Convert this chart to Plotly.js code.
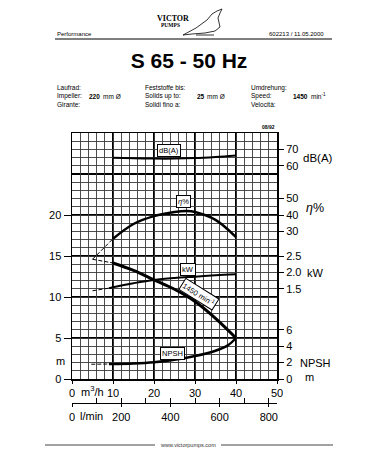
<!DOCTYPE html>
<html>
<head>
<meta charset="utf-8">
<script src="https://cdn.plot.ly/plotly-3.0.1.min.js"></script>
<style>html,body{margin:0;padding:0;background:#fff}#chart{width:378px;height:472px}</style>
</head>
<body>
<div id="chart"></div>
<script>
// ---------- data ----------
const flowHead = [10, 15, 20, 25, 30, 35, 40];            // m3/h
const head = [14.15, 13.25, 12.1, 10.95, 9.45, 7.4, 5.0];  // m
const flowHeadDash = [5, 10];
const headDash = [14.6, 14.15];

const flowEff = [10, 15, 20, 25, 28, 30, 35, 40];
const efficiency = [25.5, 34.5, 39.3, 41.8, 42.4, 41.8, 37.0, 26.5]; // %
const flowEffDash = [5, 10];
const efficiencyDash = [13, 25.5];

const flowPower = [9, 10, 15, 20, 25, 30, 35, 40];
const power = [1.52, 1.55, 1.67, 1.77, 1.83, 1.87, 1.91, 1.94];   // kW
const flowPowerDash = [5, 9];
const powerDash = [1.44, 1.52];

const flowNoise = [10, 15, 20, 25, 30, 35, 40];
const noise = [64.9, 64.6, 64.4, 64.4, 64.7, 65.4, 66.3];         // dB(A)

const flowNpsh = [9, 15, 20, 25, 30, 35, 38, 40];
const npsh = [1.83, 1.9, 2.05, 2.35, 2.8, 3.45, 4.1, 5.0];         // m
const flowNpshDash = [4.7, 9];
const npshDash = [1.8, 1.83];

const flowTicks = [0, 10, 20, 30, 40, 50];
const litreTicks = [0, 200, 400, 600, 800];
const litreMinorTicks = [0, 100, 200, 300, 400, 500, 600, 700, 800];
const headTicks = [0, 5, 10, 15, 20];
const noiseTicks = [60, 70];
const effTicks = [30, 40, 50];
const powerTicks = [1.5, 2.0, 2.5];
const powerTickText = ['1.5', '2.0', '2.5'];
const npshTicks = [0, 2, 4, 6];

const impeller = '220';
const solids = '25';
const speed = '1450';

// ---------- layout helpers ----------
const L = 72, R = 277, T = 133, B = 410, PLOTB = 379;
const PX = px => (px - L) / (R - L);
const PY = py => (B - py) / (B - T);
const SANS = "'Liberation Sans', Arial, sans-serif";

function ann(text, px, py, opts) {
  return Object.assign({text: text, x: PX(px), y: PY(py), xref: 'paper', yref: 'paper',
    showarrow: false, xanchor: 'center', yanchor: 'middle',
    font: {family: SANS, size: 6.5, color: '#000'}}, opts || {});
}
function dataLabel(text, q, h, extra) {
  return Object.assign({text: text, x: q, y: h, xref: 'x', yref: 'y', showarrow: false,
    font: {family: SANS, size: 7.5, color: '#000'}, bgcolor: '#fff', bordercolor: '#000',
    borderwidth: 1, borderpad: 1}, extra || {});
}
const big = (size) => ({font: {family: SANS, size: size || 11, color: '#000'}});

const line = (x, y, ya, w, dash) => ({x: x, y: y, yaxis: ya, type: 'scatter', mode: 'lines',
  line: {color: '#000', width: w, dash: dash || 'solid', shape: 'spline'}, hoverinfo: 'skip', showlegend: false});

const traces = [
  {x: [], y: [], xaxis: 'x4', yaxis: 'y', showlegend: false},
  {x: [], y: [], xaxis: 'x', yaxis: 'y6', showlegend: false},
  {x: [], y: [], xaxis: 'x', yaxis: 'y7', showlegend: false},
  {x: [], y: [], xaxis: 'x2', yaxis: 'y', showlegend: false},
  {x: [], y: [], xaxis: 'x3', yaxis: 'y', showlegend: false},
  line(flowNoise, noise, 'y2', 2),
  line(flowEffDash, efficiencyDash, 'y3', 1, '4px,2px'),
  line(flowEff, efficiency, 'y3', 2.5),
  line(flowPowerDash, powerDash, 'y4', 1, '4px,2px'),
  line(flowPower, power, 'y4', 2),
  line(flowNpshDash, npshDash, 'y5', 1, '4px,2px'),
  line(flowNpsh, npsh, 'y5', 2.5),
  line(flowHeadDash, headDash, 'y', 1, '4px,2px'),
  line(flowHead, head, 'y', 3)
];

const tickFont = {family: SANS, size: 11, color: '#000'};
const rightAxis = (range, vals, text) => ({overlaying: 'y', side: 'right', anchor: 'x', range: range,
  tickmode: 'array', tickvals: vals, ticktext: text, ticks: 'outside', ticklen: 6, tickwidth: 1,
  tickcolor: '#000', showgrid: false, zeroline: false, showline: false, tickfont: tickFont, fixedrange: true});

const layout = {
  width: 378, height: 472,
  font: {family: SANS, color: '#000'},
  margin: {l: L, r: 378 - R, t: T, b: 472 - B, pad: 0},
  paper_bgcolor: '#fff', plot_bgcolor: '#fff',
  showlegend: false,
  title: {text: '<b>S 65 - 50 Hz</b>', x: 0.5, xref: 'container', y: 1 - 61 / 472, yref: 'container',
    yanchor: 'middle', xanchor: 'center', font: {family: SANS, size: 21, color: '#000'}},
  xaxis: {range: [0, 50], tickmode: 'array', tickvals: flowTicks, ticks: 'outside', ticklen: 3,
    tickcolor: '#000', showline: true, linecolor: '#000', linewidth: 1.5, mirror: true,
    showgrid: true, gridcolor: '#000', gridwidth: 1.3, zeroline: false, tickfont: tickFont, fixedrange: true},
  xaxis4: {overlaying: 'x', anchor: 'y', range: [0, 50], dtick: 2, tick0: 0, showgrid: true,
    gridcolor: '#3a3a3a', gridwidth: 0.9, showticklabels: false, ticks: '', zeroline: false, showline: false},
  xaxis2: {overlaying: 'x', anchor: 'free', position: PY(403), range: [0, 50 * 1000 / 60],
    tickmode: 'array', tickvals: litreTicks, ticks: 'outside', ticklen: 3, tickcolor: '#000',
    showline: true, linecolor: '#000', linewidth: 1.3, showgrid: false, zeroline: false, tickfont: tickFont},
  xaxis3: {overlaying: 'x', anchor: 'free', position: PY(403), range: [0, 50 * 1000 / 60],
    tickmode: 'array', tickvals: litreMinorTicks, ticks: 'inside', ticklen: 5, tickcolor: '#000',
    showticklabels: false, showline: false, showgrid: false, zeroline: false},
  yaxis: {domain: [(B - PLOTB) / (B - T), 1], range: [0, 30], tickmode: 'array', tickvals: headTicks,
    ticks: 'outside', ticklen: 7, tickcolor: '#000', showline: true, linecolor: '#000', linewidth: 1.5,
    mirror: true, showgrid: true, gridcolor: '#000', gridwidth: 1.3, zeroline: false, tickfont: tickFont, fixedrange: true},
  yaxis6: {overlaying: 'y', anchor: 'x', range: [0, 30], dtick: 1, tick0: 0, showgrid: true,
    gridcolor: '#3a3a3a', gridwidth: 0.9, showticklabels: false, ticks: '', zeroline: false, showline: false},
  yaxis7: {overlaying: 'y', anchor: 'x', range: [0, 30], tickmode: 'array', tickvals: [25], showgrid: true,
    gridcolor: '#000', gridwidth: 1.3, showticklabels: false, ticks: '', zeroline: false, showline: false},
  yaxis2: rightAxis([-70, 80], noiseTicks),
  yaxis3: rightAxis([-60, 90], effTicks),
  yaxis4: rightAxis([-1.25, 6.25], powerTicks, powerTickText),
  yaxis5: rightAxis([0, 30], npshTicks),
  shapes: [
    {type: 'line', xref: 'paper', yref: 'paper', x0: PX(55), x1: PX(332), y0: PY(39), y1: PY(39), line: {color: '#000', width: 1}},
    {type: 'line', xref: 'paper', yref: 'paper', x0: PX(45), x1: PX(155), y0: PY(445), y1: PY(445), line: {color: '#444', width: 1}},
    {type: 'line', xref: 'paper', yref: 'paper', x0: PX(221), x1: PX(333), y0: PY(445), y1: PY(445), line: {color: '#444', width: 1}},
    {type: 'path', xref: 'paper', yref: 'paper', line: {color: '#000', width: 0.8},
      path: 'M' + [[183,35],[196,28],[207,20],[212,14],[217,11],[222,9],[220,13],[218,18],[220,27],[215,31],[205,33],[192,34]]
        .map(p => PX(p[0]) + ',' + PY(p[1])).join(' L') + ' Z'},
    {type: 'path', xref: 'paper', yref: 'paper', line: {color: '#000', width: 0.8},
      path: 'M' + [[196,35],[214,35]].map(p => PX(p[0]) + ',' + PY(p[1])).join(' L')}
  ],
  annotations: [
    ann('Performance', 55, 34, {xanchor: 'left', font: {family: SANS, size: 6, color: '#000'}}),
    ann('602213 / 11.05.2000', 326, 34, {xanchor: 'right', font: {family: SANS, size: 6, color: '#000'}}),
    ann('<b>VICTOR</b>', 173, 18, {font: {family: "'Liberation Serif', serif", size: 8, color: '#000'}}),
    ann('<b>PUMPS</b>', 170, 25, {font: {family: "'Liberation Serif', serif", size: 5.5, color: '#000'}}),
    ann('Laufrad:', 55, 88, {xanchor: 'left'}),
    ann('Impeller:', 55, 96.5, {xanchor: 'left'}),
    ann('Girante:', 55, 105, {xanchor: 'left'}),
    ann('<b>' + impeller + '</b>', 87, 96.5, {xanchor: 'left'}),
    ann('mm Ø', 101, 96.5, {xanchor: 'left'}),
    ann('Feststoffe bis:', 143, 88, {xanchor: 'left'}),
    ann('Solids up to:', 143, 96.5, {xanchor: 'left'}),
    ann('Solidi fino a:', 143, 105, {xanchor: 'left'}),
    ann('<b>' + solids + '</b>', 195, 96.5, {xanchor: 'left'}),
    ann('mm Ø', 205, 96.5, {xanchor: 'left'}),
    ann('Umdrehung:', 249, 88, {xanchor: 'left'}),
    ann('Speed:', 249, 96.5, {xanchor: 'left'}),
    ann('Velocità:', 249, 105, {xanchor: 'left'}),
    ann('<b>' + speed + '</b>', 291, 96.5, {xanchor: 'left'}),
    ann('min<sup>-1</sup>', 309, 95.5, {xanchor: 'left'}),
    ann('<b>08/92</b>', 268, 126.5, {font: {family: SANS, size: 5, color: '#000'}}),
    ann('www.victorpumps.com', 188, 445, {font: {family: SANS, size: 5.5, color: '#333'}}),
    ann('dB(A)', 301, 158, Object.assign({xanchor: 'left'}, big(11.5))),
    ann('<i>η</i>%', 304, 208, Object.assign({xanchor: 'left'}, big(12.5))),
    ann('kW', 305, 273, Object.assign({xanchor: 'left'}, big(11))),
    ann('NPSH', 298, 363, Object.assign({xanchor: 'left'}, big(11))),
    ann('m', 309, 377, big(11)),
    ann('m', 60, 361, big(11)),
    ann('m<sup>3</sup>/h', 92, 391, big(11)),
    ann('l/min', 91, 416.5, big(11)),
    dataLabel('dB(A)', 23.7, 27.87),
    dataLabel('<i>η</i>%', 27.2, 21.7),
    dataLabel('kW', 28.3, 13.4),
    dataLabel('1450 min<sup>-1</sup>', 30.9, 10.37, {textangle: 32}),
    dataLabel('NPSH', 24.6, 3.17)
  ]
};

Plotly.newPlot('chart', traces, layout, {staticPlot: true, displayModeBar: false});
</script>
</body>
</html>
